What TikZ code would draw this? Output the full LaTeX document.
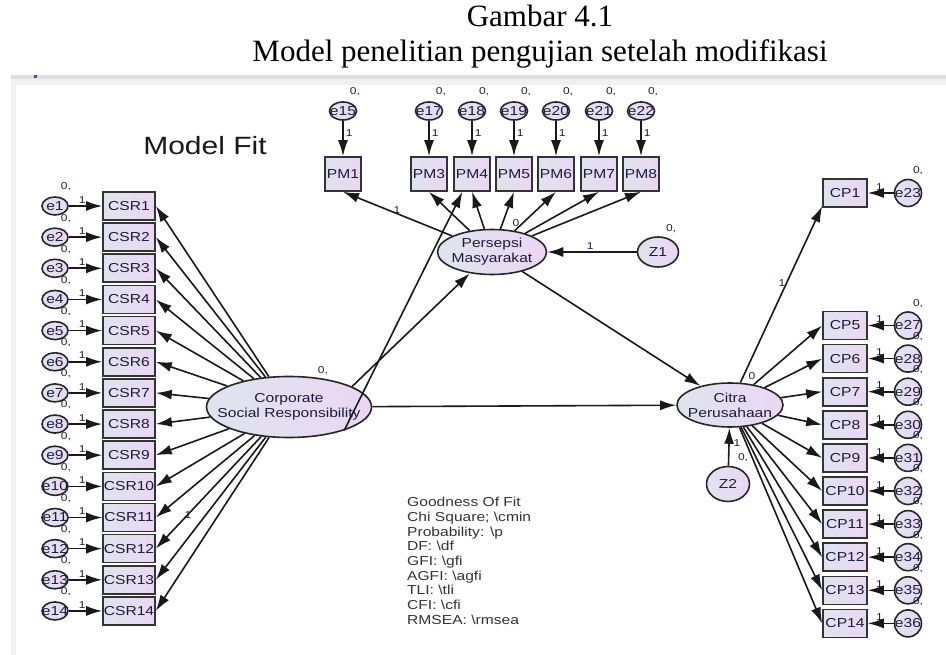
\documentclass[tikz,border=0pt]{standalone}
\usepackage{fontspec}
\setmainfont{Liberation Serif}
\newfontfamily\amosfont[FakeStretch=1.2]{Liberation Sans}
\usetikzlibrary{arrows.meta,%
                shapes.geometric,%
                positioning,%
                calc}

\definecolor{boxleft}{RGB}{222,228,238}
\definecolor{boxright}{RGB}{236,214,243}
\definecolor{inkblue}{RGB}{28,28,62}

\begin{document}
\begin{tikzpicture}[x=1pt, y=-1pt,
indicator/.style={rectangle, draw=black!80, line width=1.6pt, left color=boxleft,
right color=boxright, minimum width=52pt, minimum height=28pt, inner sep=0pt,
text=inkblue, font=\amosfont\fontsize{13}{13}\selectfont},
%
latent/.style={ellipse, draw=black!85, line width=1.6pt, left color=boxleft,
right color=boxright, inner sep=0pt},
%
error/.style={latent, minimum width=26pt, minimum height=18pt},
%
weight/.style={text=inkblue, inner sep=1pt, font=\amosfont\fontsize{10}{10}\selectfont},
%
link/.style={draw=black!90, line width=1.6pt, -{Latex[length=16pt, width=10pt]}},
%
every label/.style={text=inkblue, inner sep=0pt, align=center,
font=\amosfont\fontsize{13}{15}\selectfont}]

\useasboundingbox (0,0) rectangle (946,655);

% window frame
\fill[black!13] (11,75) rectangle (946,79);
\fill[black!6] (11,79) rectangle (946,85);
\fill[black!6] (11,85) rectangle (16,655);
\fill[blue!40!gray] (34,75) rectangle (37,78);

% title
\node[anchor=base, font=\fontsize{31}{31}\selectfont] (title) at (540,27) {Gambar 4.1};
\node[anchor=base, font=\fontsize{31}{31}\selectfont] (subtitle) at (540,62)
  {Model penelitian pengujian setelah modifikasi};

\node[text=black!90, font=\amosfont\fontsize{25}{25}\selectfont] (fit) at (205,146) {Model Fit};

%%%%%%%%%%%%%%%%%%%%%%%%%%%%%%%%%%
% latent variables
\node[latent, minimum width=165pt, minimum height=61pt,
  label=center:{Corporate\\Social Responsibility}] (CSR) at (289,407) {};
\node[weight] (vCSR) at (323,371) {0,};
\node[latent, minimum width=109pt, minimum height=45pt,
  label=center:{Persepsi\\Masyarakat}] (PS) at (492,252) {};
\node[latent, minimum width=106pt, minimum height=44pt,
  label=center:{Citra\\Perusahaan}] (CT) at (730,405) {};
\node[latent, minimum width=41pt, minimum height=30pt, label=center:Z1] (Z1) at (658,252) {};
\node[weight] (vZ1) at (671,229) {0,};
\node[latent, minimum width=43pt, minimum height=35pt, label=center:Z2] (Z2) at (728,484) {};
\node[weight] (vZ2) at (743,458) {0,};

%%%%%%%%%%%%%%%%%%%%%%%%%%%%%%%%%%
% CSR indicators
\foreach \i [evaluate=\i as \yy using 206+31.15*(\i-1)] in {1,...,14}{
  \node[indicator] (CSR\i) at (129,\yy) {CSR\i};
  \node[error, label=center:e\i] (e\i) at (55,\yy) {};
  \node[weight] (v\i) at ($(e\i)+(11,-19)$) {0,};
  \draw[link] (e\i) -- node[weight, pos=0.4, above=1pt] (w\i) {1} (CSR\i);
  \draw[link] (CSR) -- (CSR\i.east);
}
\node[weight] (wCSR) at (188,515) {1};

%%%%%%%%%%%%%%%%%%%%%%%%%%%%%%%%%%
% PM indicators
\foreach \n/\x/\k in {1/343/15,3/429/17,4/472/18,5/514/19,6/556/20,7/599/21,8/641/22}{
  \node[indicator, minimum width=36pt, minimum height=34pt] (PM\n) at (\x,174) {PM\n};
  \node[error, minimum width=27pt, label=center:e\k] (e\k) at (\x,111) {};
  \node[weight] (v\k) at ($(e\k)+(12,-19)$) {0,};
  \draw[link] (e\k) -- node[weight, pos=0.35, right=1pt] (w\k) {1} (PM\n);
  \draw[link] (PS) -- (PM\n.south);
}
\node[weight] (wPM1) at (397,210) {1};
\node[weight] (wPM5) at (516,223) {0};

%%%%%%%%%%%%%%%%%%%%%%%%%%%%%%%%%%
% CP indicators
\node[indicator, minimum width=44pt] (CP1) at (845,193) {CP1};
\node[error, minimum width=27pt, minimum height=27pt, label=center:e23] (e23) at (908,193) {};
\node[weight] (v23) at ($(e23)+(10,-22)$) {0,};
\draw[link] (e23) -- node[weight, pos=0.55, above=1pt] (w23) {1} (CP1);

\foreach \k [evaluate=\k as \yy using 325.5+33.1*(\k-5),
             evaluate=\k as \m using int(\k+22)] in {5,...,14}{
  \node[indicator, minimum width=44pt] (CP\k) at (845,\yy) {CP\k};
  \node[error, minimum width=27pt, minimum height=27pt, label=center:e\m] (e\m) at (908,\yy) {};
  \node[weight] (v\m) at ($(e\m)+(10,-22)$) {0,};
  \draw[link] (e\m) -- node[weight, pos=0.55, above=1pt] (w\m) {1} (CP\k);
  \draw[link] (CT) -- (CP\k.west);
}

%%%%%%%%%%%%%%%%%%%%%%%%%%%%%%%%%%
% structural paths
\begin{scope}
  \draw[link] (CSR) -- (CT);
  \draw[link] (CSR.18) -- (PS);
  \draw[link] (CSR.-23) -- (PM4.-118);
  \draw[link] (PS) -- (CT);
  \draw[link] (Z1) -- node[weight, pos=0.52, above=1pt] (wZ1) {1} (PS);
  \draw[link] (Z2) -- (CT);
  \draw[link] (CT) -- (CP1.-150);
\end{scope}
\node[weight] (wZ2) at (737,443) {1};
\node[weight] (wCP1) at (782,283) {1};
\node[weight] (vCP1) at (752,376) {0};

% goodness of fit text
\node[anchor=north west, align=left, inner sep=0pt, text=black!80,
  font=\amosfont\fontsize{13}{14.7}\selectfont] (gof) at (407,497)
  {Goodness Of Fit\\Chi Square; \textbackslash cmin\\Probability: \textbackslash p\\
   DF: \textbackslash df\\GFI: \textbackslash gfi\\AGFI: \textbackslash agfi\\
   TLI: \textbackslash tli\\CFI: \textbackslash cfi\\RMSEA: \textbackslash rmsea};

\end{tikzpicture}
\end{document}
